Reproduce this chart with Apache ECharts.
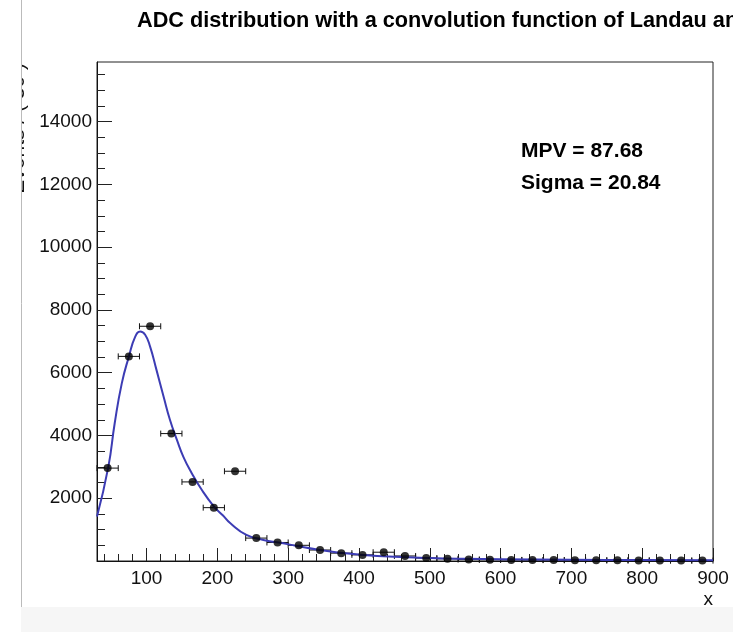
<!DOCTYPE html>
<html>
<head>
<meta charset="utf-8">
<script src="https://cdn.jsdelivr.net/npm/echarts@6/dist/echarts.min.js"></script>
<style>html,body{margin:0;padding:0;background:#fff;}#c{width:733px;height:632px;}</style>
</head>
<body>
<div id="c"></div>
<script>
// Histogram bins (bin width 30, centres)
var binCenters = [45,75,105,135,165,195,225,255,285,315,345,375,405,435,465,495,525,555,585,615,645,675,705,735,765,795,825,855,885];
var binCounts  = [2960,6520,7480,4060,2520,1700,2860,730,590,500,350,250,195,280,160,95,70,45,40,35,30,28,25,22,20,18,16,14,12];
var binWidth = 30;
// Fit curve
var fitX = [30,46,55,65,75,84,91,98,105,114,124,133,143,152,164,177,195,208,218,241,265,289,312,345,373,400,450,500,550,600,700,800,900];
var fitY = [1420,3000,4390,5660,6510,7150,7310,7210,6830,6090,5240,4500,3850,3320,2790,2300,1740,1450,1210,830,670,580,480,350,265,205,135,95,70,55,38,28,22];
// Axis ticks
var xMajor = [100,200,300,400,500,600,700,800,900];
var xMinor = [40,60,80,120,140,160,180,220,240,260,280,320,340,360,380,420,440,460,480,520,540,560,580,620,640,660,680,720,740,760,780,820,840,860,880];
var yMajor = [2000,4000,6000,8000,10000,12000,14000];
var yMinor = [500,1000,1500,2500,3000,3500,4500,5000,5500,6500,7000,7500,8500,9000,9500,10500,11000,11500,12500,13000,13500,14500,15000,15500];
var titleText = 'ADC distribution with a convolution function of Landau and Gaussian';
var statLines = ['MPV = 87.68', 'Sigma = 20.84'];

var FONT = '"Liberation Sans", Arial, Helvetica, sans-serif';
var chart = echarts.init(document.getElementById('c'), null, {renderer: 'canvas'});

var pts = binCenters.map(function (x, i) { return [x, binCounts[i]]; });
var fit = fitX.map(function (x, i) { return [x, fitY[i]]; });
function plain(v) { return String(v); }

function valAxisX(major) {
  return {
    type: 'value', min: 30, max: 900, position: 'bottom',
    axisLine: {show: major, onZero: false, lineStyle: {color: '#111', width: 1}},
    axisTick: {show: true, inside: true, length: major ? 13 : 7, customValues: major ? xMajor : xMinor, lineStyle: {color: '#222', width: 1}},
    axisLabel: major ? {show: true, customValues: xMajor, formatter: plain, fontSize: 19, color: '#111', margin: 8, fontFamily: FONT} : {show: false},
    splitLine: {show: false}
  };
}
function valAxisY(major) {
  return {
    type: 'value', min: 0, max: 15900, position: 'left',
    axisLine: {show: major, onZero: false, lineStyle: {color: '#111', width: 1}},
    axisTick: {show: true, inside: true, length: major ? 15 : 8, customValues: major ? yMajor : yMinor, lineStyle: {color: '#222', width: 1}},
    axisLabel: major ? {show: true, customValues: yMajor, formatter: plain, fontSize: 19, color: '#111', margin: 5, fontFamily: FONT} : {show: false},
    splitLine: {show: false}
  };
}

chart.setOption({
  animation: false,
  backgroundColor: '#fff',
  grid: {left: 97, right: 20, top: 62, bottom: 71, show: true, borderColor: '#222', borderWidth: 1, backgroundColor: 'transparent'},
  xAxis: [valAxisX(true), valAxisX(false)],
  yAxis: [valAxisY(true), valAxisY(false)],
  series: [
    {
      type: 'custom', xAxisIndex: 0, yAxisIndex: 0, data: pts, z: 3,
      renderItem: function (params, api) {
        var x = api.value(0), y = api.value(1);
        var a = api.coord([x - binWidth / 2, y]);
        var b = api.coord([x + binWidth / 2, y]);
        var st = {stroke: '#111', lineWidth: 1};
        return {type: 'group', children: [
          {type: 'line', shape: {x1: a[0], y1: a[1], x2: b[0], y2: b[1]}, style: st},
          {type: 'line', shape: {x1: a[0], y1: a[1] - 3, x2: a[0], y2: a[1] + 3}, style: st},
          {type: 'line', shape: {x1: b[0], y1: b[1] - 3, x2: b[0], y2: b[1] + 3}, style: st}
        ]};
      }
    },
    {
      type: 'line', xAxisIndex: 0, yAxisIndex: 0, data: fit, showSymbol: false, symbol: 'none',
      smooth: 0.5, z: 4,
      lineStyle: {color: '#3c3cb4', width: 2}
    },
    {
      type: 'scatter', xAxisIndex: 0, yAxisIndex: 0, data: pts, symbol: 'circle', symbolSize: 8, z: 5,
      itemStyle: {color: '#000'}
    }
  ],
  graphic: [
    {type: 'text', left: 137, top: 10, z: 10, style: {text: titleText, font: 'bold 21.7px ' + FONT, fill: '#000'}},
    {type: 'text', left: 521, top: 141, z: 10, style: {text: statLines[0], font: 'bold 21px ' + FONT, fill: '#000'}},
    {type: 'text', left: 521, top: 173, z: 10, style: {text: statLines[1], font: 'bold 21px ' + FONT, fill: '#000'}},
    {type: 'text', right: 20, top: 590, z: 10, style: {text: 'x', font: '19px ' + FONT, fill: '#111'}},
    {type: 'text', x: 18, y: 63, rotation: Math.PI / 2, z: 10, style: {text: 'Events / ( 30 )', font: '21px ' + FONT, fill: '#111', align: 'right', verticalAlign: 'middle'}},
    {type: 'rect', shape: {x: 0, y: 0, width: 21, height: 632}, z: 20, style: {fill: '#fff'}},
    {type: 'rect', shape: {x: 21, y: 607, width: 712, height: 25}, z: 20, style: {fill: '#f6f6f6'}},
    {type: 'line', shape: {x1: 21.5, y1: 0, x2: 21.5, y2: 607}, z: 21, style: {stroke: '#bbb', lineWidth: 1}}
  ]
});
</script>
</body>
</html>
